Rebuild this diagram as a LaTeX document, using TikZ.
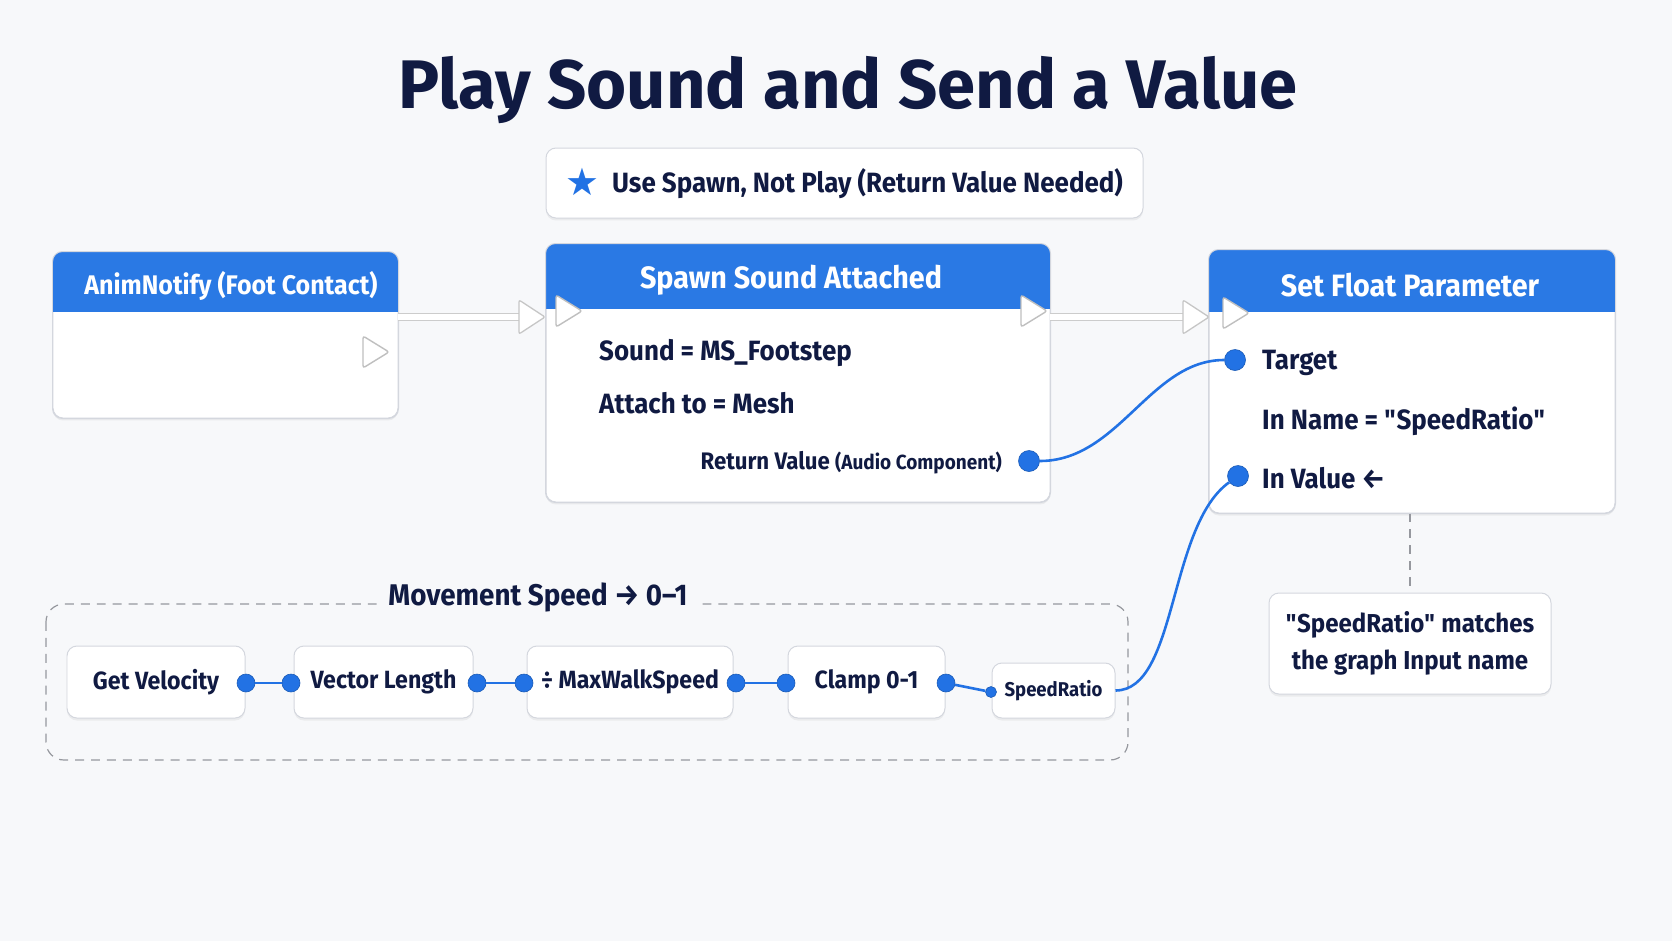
\documentclass[tikz,border=0pt]{standalone}
\usepackage{fontspec}
\setmainfont{Fira Sans}[FakeStretch=0.93]
\newfontfamily\titlefont{Fira Sans}
\newfontfamily\symfont{DejaVu Sans}
\usepackage{tikz}
\usetikzlibrary{shapes.geometric,shadows,calc,positioning}

\definecolor{bgColor}{RGB}{247,248,250}
\definecolor{hdColor}{RGB}{42,121,228}
\definecolor{txtColor}{RGB}{16,26,66}
\definecolor{pinColor}{RGB}{34,114,228}
\definecolor{edgeColor}{RGB}{212,215,222}
\definecolor{dashColor}{RGB}{150,152,158}

\tikzset{
  card/.style={draw=edgeColor, fill=white, rounded corners=10pt, line width=1pt,
    drop shadow={shadow xshift=0pt, shadow yshift=-2.5pt, opacity=0.10}},
  hdtext/.style={text=white, font=\fontsize{31}{34}\selectfont\bfseries},
  bodytext/.style={text=txtColor, font=\fontsize{28}{32}\selectfont\bfseries, inner sep=0pt},
  smallbox/.style={card, minimum height=72bp, text=txtColor, font=\fontsize{25}{30}\selectfont\bfseries},
  datapin/.style={circle, fill=pinColor, draw=pinColor!80!black, line width=0.6pt, inner sep=0pt, minimum size=#1},
  datapin/.default=20bp,
  wire/.style={draw=pinColor, line width=2.6pt},
  execpin/.pic={\draw[draw=gray!50, fill=white, line width=1.4pt, rounded corners=2.5pt] (-12,-16) -- (14,0) -- (-12,16) -- cycle;},
  flowhead/.pic={\draw[draw=gray!45, fill=white, line width=1.3pt, rounded corners=2pt] (-13,-17) -- (13,0) -- (-13,17) -- cycle;},
  flowshaft/.style={draw=gray!40, line width=1.3pt, double=white, double distance=6pt}
}

\begin{document}
\begin{tikzpicture}[x=1bp,y=-1bp]
\fill[bgColor] (0,0) rectangle (1672,941);
\useasboundingbox (0,0) rectangle (1672,941);

% title and hint
\node[text=txtColor, font=\fontsize{69}{74}\selectfont\titlefont\bfseries] (title) at (848,90) {Play Sound and Send a Value};
\node[card, minimum width=597bp, minimum height=70bp] (hint) at (844.5,183) {};
\node[text=pinColor, font=\fontsize{38}{40}\selectfont\symfont, inner sep=0pt] (star) at (582,182) {★};
\node[bodytext, anchor=west] (hinttext) at (612,184) {Use Spawn, Not Play (Return Value Needed)};

% event node
\node[card, minimum width=345bp, minimum height=166bp] (anim) at (225.5,335) {};
\begin{scope}
  \clip[rounded corners=10pt] (anim.south west) rectangle (anim.north east);
  \fill[hdColor] (anim.north west) rectangle ($(anim.north east)+(0,60)$);
\end{scope}
\draw[edgeColor, line width=1pt, rounded corners=10pt] (anim.south west) rectangle (anim.north east);
\node[hdtext, font=\fontsize{27}{30}\selectfont\bfseries] (animhd) at (231,286) {AnimNotify (Foot Contact)};
\pic at (375,352) {execpin};

% spawn node
\node[card, minimum width=504bp, minimum height=258bp] (spawn) at (798,373) {};
\begin{scope}
  \clip[rounded corners=10pt] (spawn.south west) rectangle (spawn.north east);
  \fill[hdColor] (spawn.north west) rectangle ($(spawn.north east)+(0,65)$);
\end{scope}
\draw[edgeColor, line width=1pt, rounded corners=10pt] (spawn.south west) rectangle (spawn.north east);
\node[hdtext] (spawnhd) at (791,280) {Spawn Sound Attached};
\pic at (568,311) {execpin};
\pic at (1033,311) {execpin};
\node[bodytext, anchor=west] (sound) at (599,353) {Sound = MS\_Footstep};
\node[bodytext, anchor=west] (attach) at (599,403) {Attach to = Mesh};
\node[bodytext, anchor=east] (retval) at (1002,463) {\fontsize{24}{28}\selectfont Return Value {\fontsize{20.5}{24}\selectfont(Audio Component)}};
\node[datapin=21bp] (ret) at (1029,461) {};

% set float node
\node[card, minimum width=406bp, minimum height=263bp] (setf) at (1412,381.5) {};
\begin{scope}
  \clip[rounded corners=10pt] (setf.south west) rectangle (setf.north east);
  \fill[hdColor] (setf.north west) rectangle ($(setf.north east)+(0,62)$);
\end{scope}
\draw[edgeColor, line width=1pt, rounded corners=10pt] (setf.south west) rectangle (setf.north east);
\node[hdtext] (setfhd) at (1410,285) {Set Float Parameter};
\pic at (1235,313) {execpin};
\node[datapin=21bp] (tgt) at (1235,360) {};
\node[bodytext, anchor=west] (tgttext) at (1262,363) {Target};
\node[bodytext, anchor=west] (inname) at (1262,421) {In Name = \textquotedbl SpeedRatio\textquotedbl};
\node[datapin=21bp] (inval) at (1238,476) {};
\node[bodytext, anchor=west] (invaltext) at (1262,478) {In Value ←};

% exec flow
\coordinate (f1a) at (398,317);
\coordinate (f1b) at (520,317);
\draw[flowshaft] (f1a) -- (f1b);
\pic at (532,317) {flowhead};
\coordinate (f2a) at (1050,317);
\coordinate (f2b) at (1184,317);
\draw[flowshaft] (f2a) -- (f2b);
\pic at (1196,317) {flowhead};

% speed group
\draw[dashColor, line width=1.2pt, dash pattern=on 9pt off 7pt, rounded corners=18pt] (46,604) rectangle (1128,760);
\node[fill=bgColor, text=txtColor, font=\fontsize{30}{34}\selectfont\bfseries, inner xsep=10pt] (grp) at (538,597) {Movement Speed → 0–1};

\node[smallbox, minimum width=178bp] (vel) at (156,682) {Get Velocity};
\node[smallbox, minimum width=179bp] (len) at (383.5,682) {Vector Length};
\node[smallbox, minimum width=206bp] (div) at (630,682) {÷ MaxWalkSpeed};
\node[smallbox, minimum width=157bp] (clamp) at (866.5,682) {Clamp 0-1};
\node[smallbox, minimum width=123bp, minimum height=55bp, font=\fontsize{20}{24}\selectfont\bfseries] (ratio) at (1053.5,690.5) {SpeedRatio};

\foreach \a/\b/\xa/\xb in {v1/l1/246/291, l2/d1/477/524, d2/c1/736/786}{
  \node[datapin=18bp] (\a) at (\xa,683) {};
  \node[datapin=18bp] (\b) at (\xb,683) {};
  \draw[wire] (\a) -- (\b);
}
\node[datapin=18bp] (c2) at (946,683) {};
\node[datapin=11bp] (r1) at (991,692) {};
\draw[wire] (c2) -- (r1);

% data wires
\draw[wire] (ret) .. controls +(90,0) and +(-85,0) .. (tgt);
\draw[wire] (ratio.east) .. controls +(62,0) and +(-70,50) .. (inval);

% note
\node[card, minimum width=282bp, minimum height=101bp, text=txtColor, font=\fontsize{26}{37}\selectfont\bfseries, align=center] (note) at (1410,643.5) {\textquotedbl SpeedRatio\textquotedbl{} matches\\the graph Input name};
\draw[dashColor, line width=1.2pt, dash pattern=on 9pt off 7pt] (setf.south -| note.north) -- (note.north);
\end{tikzpicture}
\end{document}
